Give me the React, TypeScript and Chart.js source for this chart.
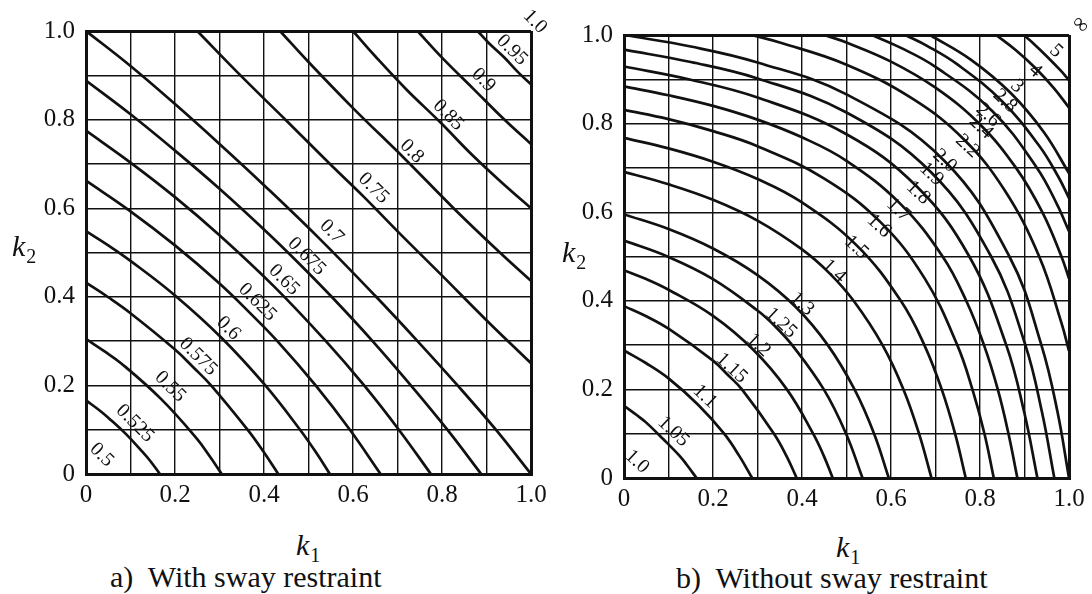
import React, { useEffect, useRef } from 'react';
import { Chart, registerables } from 'chart.js';

Chart.register(...registerables);

type Pt = [number, number];

const SERIF = '"Liberation Serif", "Times New Roman", serif';

// grid every 0.1, labels every 0.2
const gridSteps = [0, 0.1, 0.2, 0.3, 0.4, 0.5, 0.6, 0.7, 0.8, 0.9, 1.0];
const tickLabels = ['0', '', '0.2', '', '0.4', '', '0.6', '', '0.8', '', '1.0'];

// ---------- a) With sway restraint : contour points [k1, k2] ----------
const braced525: Pt[] = [[0, 0.166], [0.03, 0.144], [0.05, 0.127], [0.09, 0.09], [0.127, 0.05], [0.144, 0.03], [0.166, 0]];
const braced550: Pt[] = [[0, 0.305], [0.04, 0.278], [0.08, 0.249], [0.169, 0.169], [0.249, 0.08], [0.278, 0.04], [0.305, 0]];
const braced575: Pt[] = [[0, 0.432], [0.05, 0.399], [0.1, 0.363], [0.2, 0.281], [0.241, 0.241], [0.281, 0.2], [0.363, 0.1], [0.399, 0.05], [0.432, 0]];
const braced600: Pt[] = [[0, 0.548], [0.05, 0.516], [0.1, 0.481], [0.2, 0.403], [0.306, 0.306], [0.403, 0.2], [0.481, 0.1], [0.516, 0.05], [0.548, 0]];
const braced625: Pt[] = [[0, 0.662], [0.1, 0.593], [0.2, 0.516], [0.3, 0.43], [0.366, 0.366], [0.43, 0.3], [0.516, 0.2], [0.593, 0.1], [0.662, 0]];
const braced650: Pt[] = [[0, 0.775], [0.1, 0.703], [0.2, 0.625], [0.3, 0.539], [0.423, 0.423], [0.539, 0.3], [0.625, 0.2], [0.703, 0.1], [0.775, 0]];
const braced675: Pt[] = [[0, 0.888], [0.1, 0.812], [0.2, 0.73], [0.3, 0.644], [0.4, 0.552], [0.477, 0.477], [0.552, 0.4], [0.644, 0.3], [0.73, 0.2], [0.812, 0.1], [0.888, 0]];
const braced700: Pt[] = [[0, 1], [0.1, 0.921], [0.2, 0.835], [0.3, 0.745], [0.4, 0.652], [0.528, 0.528], [0.652, 0.4], [0.745, 0.3], [0.835, 0.2], [0.921, 0.1], [1, 0]];
const braced750: Pt[] = [[0.25, 1], [0.35, 0.897], [0.45, 0.798], [0.55, 0.698], [0.625, 0.625], [0.698, 0.55], [0.798, 0.45], [0.897, 0.35], [1, 0.25]];
const braced800: Pt[] = [[0.436, 1], [0.5, 0.93], [0.6, 0.826], [0.714, 0.714], [0.826, 0.6], [0.93, 0.5], [1, 0.436]];
const braced850: Pt[] = [[0.6, 1], [0.65, 0.943], [0.72, 0.868], [0.795, 0.795], [0.868, 0.72], [0.943, 0.65], [1, 0.6]];
const braced900: Pt[] = [[0.745, 1], [0.8, 0.94], [0.87, 0.87], [0.94, 0.8], [1, 0.745]];
const braced950: Pt[] = [[0.88, 1], [0.905, 0.973], [0.94, 0.94], [0.973, 0.905], [1, 0.88]];

const bracedLevels = ['0.525', '0.55', '0.575', '0.6', '0.625', '0.65', '0.675', '0.7', '0.75', '0.8', '0.85', '0.9', '0.95'];
const bracedCurves = [braced525, braced550, braced575, braced600, braced625, braced650, braced675, braced700, braced750, braced800, braced850, braced900, braced950];

const bracedLabelText = ['0.5', '0.525', '0.55', '0.575', '0.6', '0.625', '0.65', '0.675', '0.7', '0.75', '0.8', '0.85', '0.9', '0.95', '1.0'];
const bracedLabelK1 = [0.035, 0.110, 0.189, 0.252, 0.320, 0.385, 0.445, 0.496, 0.552, 0.646, 0.732, 0.814, 0.893, 0.957, 1.009];
const bracedLabelK2 = [0.043, 0.114, 0.197, 0.265, 0.329, 0.388, 0.438, 0.491, 0.547, 0.645, 0.728, 0.810, 0.889, 0.957, 1.021];

// ---------- b) Without sway restraint : contour points [k1, k2] ----------
const sway105: Pt[] = [[0, 0.163], [0.03, 0.141], [0.05, 0.125], [0.088, 0.088], [0.125, 0.05], [0.141, 0.03], [0.163, 0]];
const sway110: Pt[] = [[0, 0.288], [0.05, 0.259], [0.1, 0.225], [0.166, 0.166], [0.225, 0.1], [0.259, 0.05], [0.288, 0]];
const sway115: Pt[] = [[0, 0.388], [0.05, 0.365], [0.1, 0.337], [0.2, 0.265], [0.233, 0.233], [0.265, 0.2], [0.337, 0.1], [0.365, 0.05], [0.388, 0]];
const sway120: Pt[] = [[0, 0.469], [0.05, 0.449], [0.1, 0.425], [0.2, 0.366], [0.29, 0.29], [0.366, 0.2], [0.425, 0.1], [0.449, 0.05], [0.469, 0]];
const sway125: Pt[] = [[0, 0.536], [0.1, 0.499], [0.2, 0.449], [0.3, 0.378], [0.341, 0.341], [0.378, 0.3], [0.449, 0.2], [0.499, 0.1], [0.536, 0]];
const sway130: Pt[] = [[0, 0.595], [0.1, 0.562], [0.2, 0.518], [0.3, 0.458], [0.386, 0.386], [0.458, 0.3], [0.518, 0.2], [0.562, 0.1], [0.595, 0]];
const sway140: Pt[] = [[0, 0.691], [0.1, 0.663], [0.2, 0.628], [0.3, 0.581], [0.4, 0.516], [0.462, 0.462], [0.516, 0.4], [0.581, 0.3], [0.628, 0.2], [0.663, 0.1], [0.691, 0]];
const sway150: Pt[] = [[0, 0.768], [0.1, 0.744], [0.2, 0.714], [0.3, 0.675], [0.4, 0.622], [0.524, 0.524], [0.622, 0.4], [0.675, 0.3], [0.714, 0.2], [0.744, 0.1], [0.768, 0]];
const sway160: Pt[] = [[0, 0.831], [0.1, 0.81], [0.2, 0.783], [0.3, 0.749], [0.45, 0.676], [0.577, 0.577], [0.676, 0.45], [0.749, 0.3], [0.783, 0.2], [0.81, 0.1], [0.831, 0]];
const sway170: Pt[] = [[0, 0.884], [0.1, 0.864], [0.2, 0.84], [0.3, 0.809], [0.4, 0.769], [0.5, 0.716], [0.62, 0.62], [0.716, 0.5], [0.769, 0.4], [0.809, 0.3], [0.84, 0.2], [0.864, 0.1], [0.884, 0]];
const sway180: Pt[] = [[0, 0.929], [0.15, 0.899], [0.3, 0.859], [0.5, 0.776], [0.658, 0.658], [0.776, 0.5], [0.859, 0.3], [0.899, 0.15], [0.929, 0]];
const sway190: Pt[] = [[0, 0.967], [0.15, 0.939], [0.3, 0.902], [0.5, 0.825], [0.69, 0.69], [0.825, 0.5], [0.902, 0.3], [0.939, 0.15], [0.967, 0]];
const sway200: Pt[] = [[0, 1], [0.15, 0.974], [0.3, 0.938], [0.5, 0.866], [0.718, 0.718], [0.866, 0.5], [0.938, 0.3], [0.974, 0.15], [1, 0]];
const sway220: Pt[] = [[0.287, 1], [0.35, 0.983], [0.5, 0.933], [0.65, 0.855], [0.764, 0.764], [0.855, 0.65], [0.933, 0.5], [0.983, 0.35], [1, 0.287]];
const sway240: Pt[] = [[0.45, 1], [0.5, 0.983], [0.6, 0.94], [0.7, 0.881], [0.799, 0.799], [0.881, 0.7], [0.94, 0.6], [0.983, 0.5], [1, 0.45]];
const sway260: Pt[] = [[0.557, 1], [0.62, 0.972], [0.7, 0.928], [0.828, 0.828], [0.928, 0.7], [0.972, 0.62], [1, 0.557]];
const sway280: Pt[] = [[0.632, 1], [0.68, 0.976], [0.75, 0.933], [0.85, 0.85], [0.933, 0.75], [0.976, 0.68], [1, 0.632]];
const sway300: Pt[] = [[0.688, 1], [0.78, 0.944], [0.869, 0.869], [0.944, 0.78], [1, 0.688]];
const sway400: Pt[] = [[0.836, 1], [0.88, 0.966], [0.925, 0.925], [0.966, 0.88], [1, 0.836]];
const sway500: Pt[] = [[0.898, 1], [0.92, 0.981], [0.951, 0.951], [0.981, 0.92], [1, 0.898]];

const swayLevels = ['1.05', '1.1', '1.15', '1.2', '1.25', '1.3', '1.4', '1.5', '1.6', '1.7', '1.8', '1.9', '2.0', '2.2', '2.4', '2.6', '2.8', '3', '4', '5'];
const swayCurves = [sway105, sway110, sway115, sway120, sway125, sway130, sway140, sway150, sway160, sway170, sway180, sway190, sway200, sway220, sway240, sway260, sway280, sway300, sway400, sway500];

const swayLabelText = ['1.0', '1.05', '1.1', '1.15', '1.2', '1.25', '1.3', '1.4', '1.5', '1.6', '1.7', '1.8', '1.9', '2.0', '2.2', '2.4', '2.6', '2.8', '3', '4', '5', '∞'];
const swayLabelK1 = [0.029, 0.111, 0.182, 0.242, 0.302, 0.353, 0.400, 0.472, 0.522, 0.573, 0.617, 0.661, 0.691, 0.721, 0.772, 0.802, 0.818, 0.856, 0.883, 0.924, 0.971, 1.025];
const swayLabelK2 = [0.037, 0.105, 0.184, 0.248, 0.300, 0.350, 0.393, 0.467, 0.521, 0.569, 0.605, 0.644, 0.686, 0.716, 0.749, 0.792, 0.819, 0.851, 0.884, 0.919, 0.964, 1.023];

interface PanelProps {
  levels: string[];
  curves: Pt[][];
  labelText: string[];
  labelK1: number[];
  labelK2: number[];
  left: number;
  width: number;
  padTop: number;
  padRight: number;
  yWidth: number;
  xHeight: number;
  angle: number;
}

const CANVAS_H = 510;

function Panel(p: PanelProps) {
  const ref = useRef<HTMLCanvasElement>(null);
  useEffect(() => {
    const canvas = ref.current;
    if (!canvas) return;
    const labelPlugin = {
      id: 'contourLabels',
      afterDatasetsDraw(chart: any) {
        const ctx = chart.ctx;
        const xs = chart.scales.x;
        const ys = chart.scales.y;
        ctx.save();
        ctx.fillStyle = '#111';
        ctx.textAlign = 'center';
        ctx.textBaseline = 'middle';
        p.labelText.forEach((t, i) => {
          const px = xs.getPixelForValue(p.labelK1[i]);
          const py = ys.getPixelForValue(p.labelK2[i]);
          ctx.save();
          ctx.translate(px, py);
          ctx.rotate((p.angle * Math.PI) / 180);
          ctx.font = `${t === '∞' ? 22 : 20}px ${SERIF}`;
          ctx.fillText(t, 0, 0);
          ctx.restore();
        });
        ctx.restore();
      },
    };
    const gridWidth = (c: any) => (c.index === 0 || c.index === gridSteps.length - 1 ? 3 : 1.4);
    const chart = new Chart(canvas, {
      type: 'line',
      data: {
        datasets: p.curves.map((pts, i) => ({
          label: p.levels[i],
          data: pts.map(([x, y]) => ({ x, y })),
          borderColor: '#111',
          borderWidth: 2.7,
          pointRadius: 0,
          pointHoverRadius: 0,
          tension: 0.4,
          fill: false,
        })),
      },
      options: {
        animation: false,
        responsive: false,
        maintainAspectRatio: false,
        events: [],
        layout: { padding: { left: 0, top: p.padTop, right: p.padRight, bottom: 0 } },
        plugins: { legend: { display: false }, tooltip: { enabled: false } },
        scales: {
          x: {
            type: 'linear',
            min: 0,
            max: 1,
            afterBuildTicks: (s: any) => {
              s.ticks = gridSteps.map((v) => ({ value: v }));
            },
            afterFit: (s: any) => {
              s.height = p.xHeight;
            },
            ticks: {
              autoSkip: false,
              maxRotation: 0,
              padding: 6,
              color: '#111',
              font: { family: SERIF, size: 25 },
              callback: (_v: any, i: number) => tickLabels[i],
            },
            grid: { color: '#111', lineWidth: gridWidth, drawTicks: false },
            border: { display: true, color: '#111', width: 3 },
          },
          y: {
            type: 'linear',
            min: 0,
            max: 1,
            afterBuildTicks: (s: any) => {
              s.ticks = gridSteps.map((v) => ({ value: v }));
            },
            afterFit: (s: any) => {
              s.width = p.yWidth;
            },
            ticks: {
              autoSkip: false,
              padding: 11,
              color: '#111',
              font: { family: SERIF, size: 25 },
              callback: (_v: any, i: number) => tickLabels[i],
            },
            grid: { color: '#111', lineWidth: gridWidth, drawTicks: false },
            border: { display: true, color: '#111', width: 3 },
          },
        },
      },
      plugins: [labelPlugin],
    } as any);
    return () => chart.destroy();
  }, []);
  return (
    <canvas
      ref={ref}
      width={p.width}
      height={CANVAS_H}
      style={{ position: 'absolute', left: p.left, top: 0, width: p.width, height: CANVAS_H }}
    />
  );
}

const kStyle: React.CSSProperties = {
  position: 'absolute',
  fontFamily: SERIF,
  fontStyle: 'italic',
  fontSize: 30,
  lineHeight: '30px',
  color: '#111',
  whiteSpace: 'nowrap',
};
const subStyle: React.CSSProperties = {
  fontStyle: 'normal',
  fontSize: 20,
  position: 'relative',
  top: 7,
  marginLeft: 1,
};
const capStyle: React.CSSProperties = {
  position: 'absolute',
  fontFamily: SERIF,
  fontSize: 30,
  lineHeight: '30px',
  color: '#111',
  whiteSpace: 'pre',
};

export default function App() {
  return (
    <div style={{ position: 'absolute', left: 0, top: 0, width: 1092, height: 594, background: '#fff', overflow: 'hidden' }}>
      <Panel
        levels={bracedLevels}
        curves={bracedCurves}
        labelText={bracedLabelText}
        labelK1={bracedLabelK1}
        labelK2={bracedLabelK2}
        left={0}
        width={560}
        padTop={31}
        padRight={29}
        yWidth={86}
        xHeight={CANVAS_H - 474}
        angle={45}
      />
      <Panel
        levels={swayLevels}
        curves={swayCurves}
        labelText={swayLabelText}
        labelK1={swayLabelK1}
        labelK2={swayLabelK2}
        left={560}
        width={532}
        padTop={35}
        padRight={23}
        yWidth={64}
        xHeight={CANVAS_H - 478}
        angle={43}
      />
      <div style={{ ...kStyle, left: 12, top: 231 }}>k<span style={subStyle}>2</span></div>
      <div style={{ ...kStyle, left: 562, top: 237 }}>k<span style={subStyle}>2</span></div>
      <div style={{ ...kStyle, left: 296, top: 530 }}>k<span style={subStyle}>1</span></div>
      <div style={{ ...kStyle, left: 836, top: 532 }}>k<span style={subStyle}>1</span></div>
      <div style={{ ...capStyle, left: 110, top: 562 }}>{'a)  With sway restraint'}</div>
      <div style={{ ...capStyle, left: 676, top: 563 }}>{'b)  Without sway restraint'}</div>
    </div>
  );
}
